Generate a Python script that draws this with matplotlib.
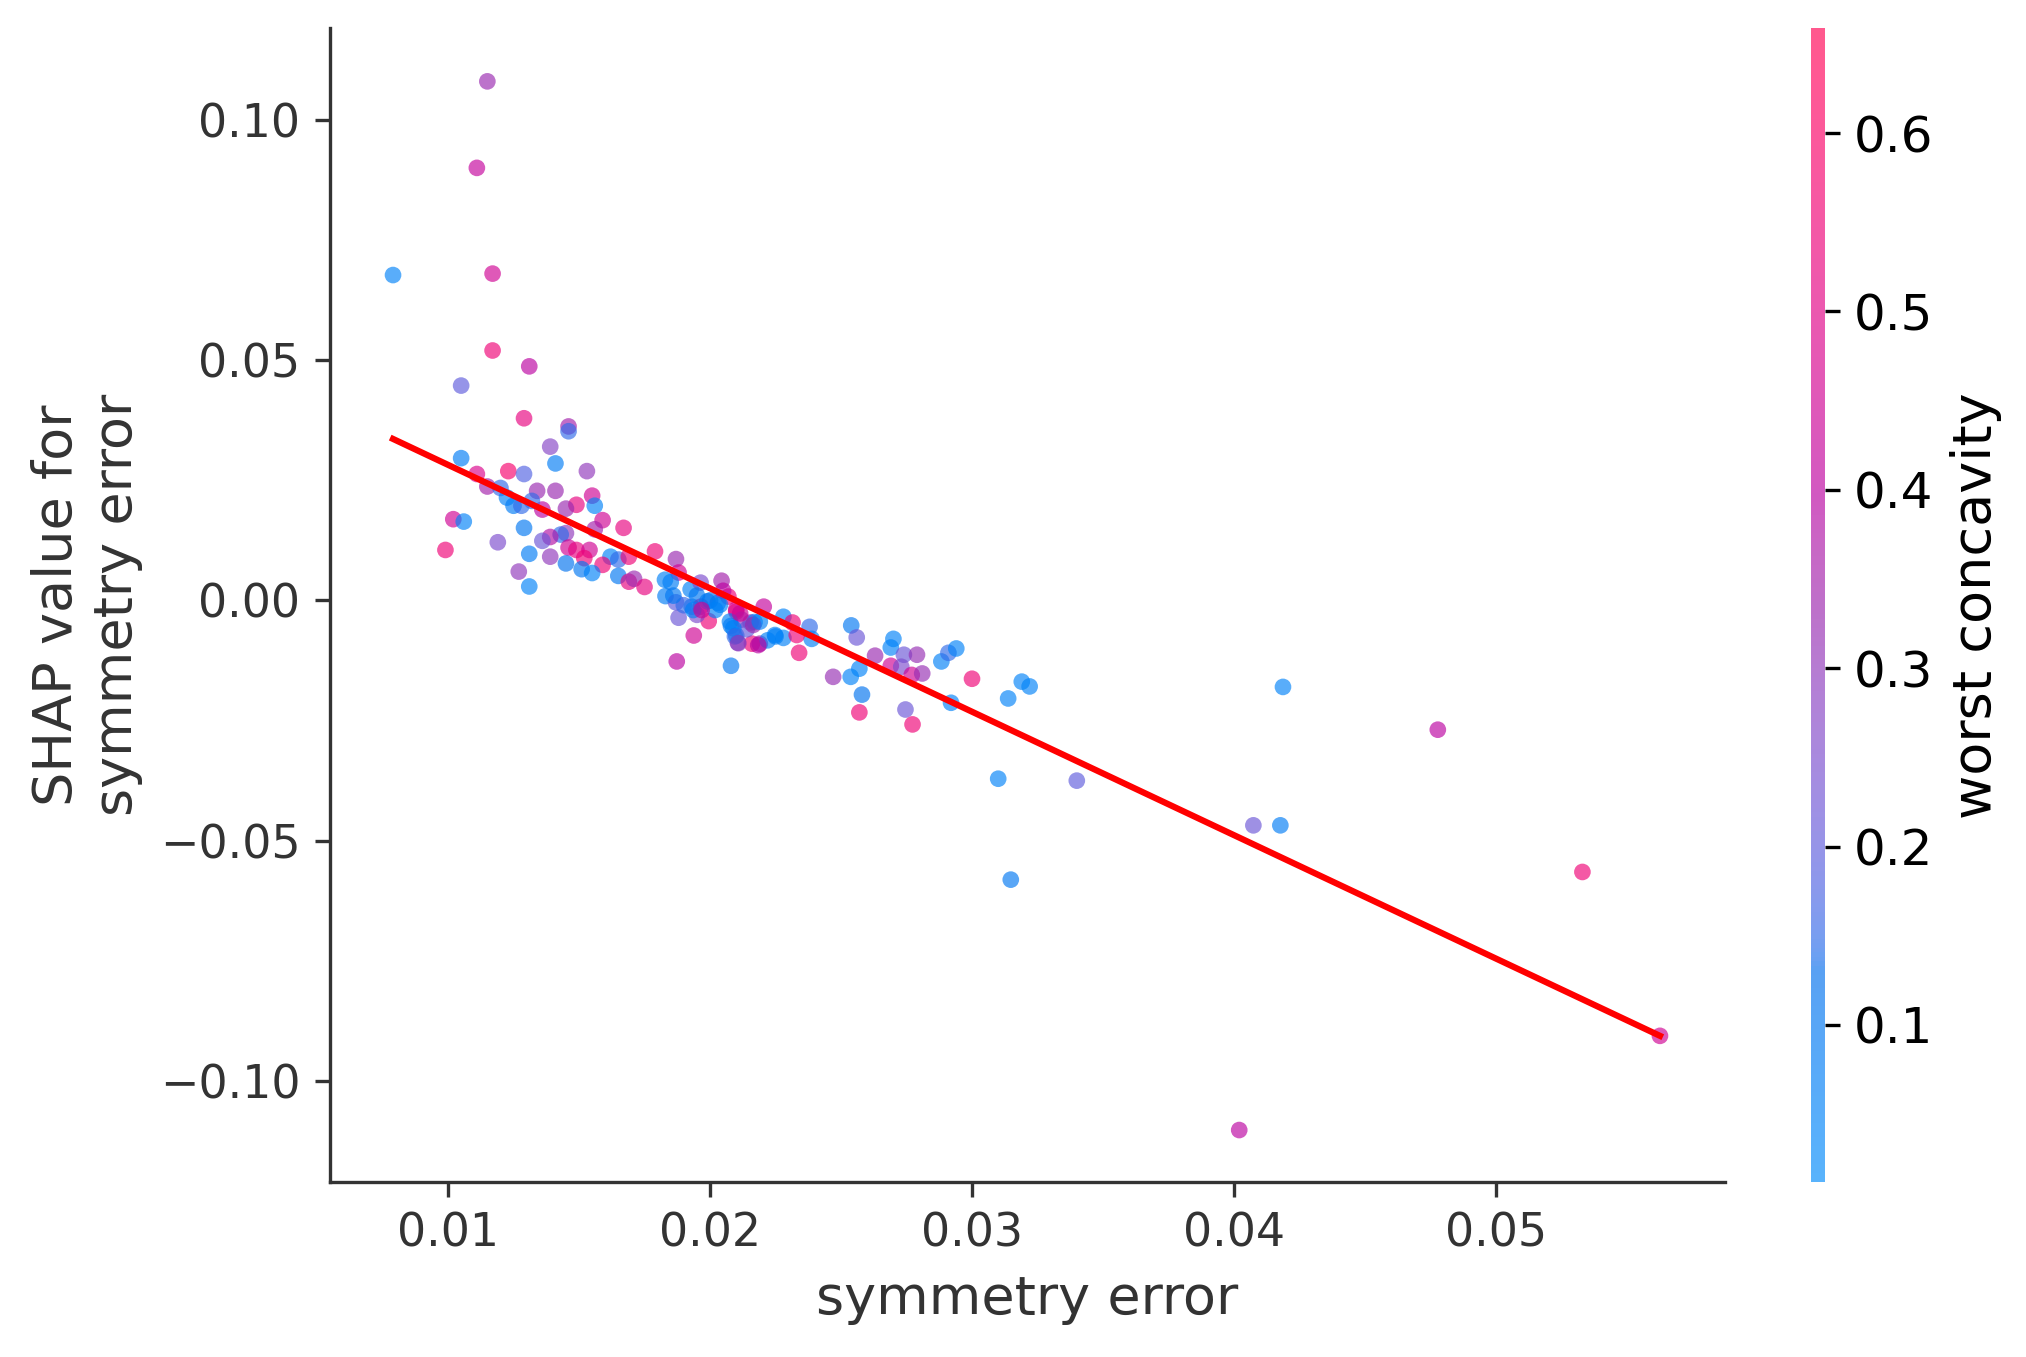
import numpy as np
import matplotlib
matplotlib.use("Agg")
import matplotlib.pyplot as plt
from matplotlib.colors import LinearSegmentedColormap

# symmetry error / SHAP value / worst concavity
sym_err = [
    0.0079, 0.0115, 0.0111, 0.0117, 0.0117, 0.0105, 0.0131, 0.0105, 0.0129, 0.0146,
    0.0146, 0.0139, 0.0141, 0.0153, 0.0111, 0.0123, 0.0129, 0.0115, 0.0120, 0.01225,
    0.0125, 0.0128, 0.0134, 0.0141, 0.0155, 0.0156, 0.0149, 0.0145, 0.0136, 0.0132,
    0.0159, 0.0102, 0.0106, 0.0129, 0.0167, 0.0156, 0.0145, 0.0143, 0.0139, 0.0136,
    0.0119, 0.0146, 0.0149, 0.0099, 0.0131, 0.0179, 0.0154, 0.0152, 0.0162, 0.0165,
    0.0169, 0.0139, 0.0187, 0.0145, 0.0159, 0.0151, 0.0155, 0.0165, 0.0188, 0.0169,
    0.0171, 0.0175, 0.0127, 0.0131, 0.0185, 0.0183, 0.0187, 0.0188, 0.01938, 0.01926,
    0.01964, 0.02044, 0.0207, 0.0210, 0.0203, 0.0193, 0.01995, 0.02205, 0.0228, 0.02315,
    0.0238, 0.02388, 0.0234, 0.0208, 0.0216, 0.0219, 0.0222, 0.0225, 0.0228, 0.02106,
    0.0210, 0.0208, 0.01965, 0.0199, 0.0210, 0.02155, 0.0217, 0.0212, 0.0214, 0.0200,
    0.0195, 0.0190, 0.0186, 0.0202, 0.0205, 0.0195, 0.02539, 0.0256, 0.0270, 0.0269,
    0.0263, 0.0274, 0.0279, 0.0269, 0.0273, 0.0277, 0.0281, 0.0247, 0.02537, 0.0257,
    0.0258, 0.0257, 0.02746, 0.02773, 0.02883, 0.0291, 0.0294, 0.0292, 0.0300, 0.03138,
    0.0319, 0.0322, 0.0310, 0.0340, 0.03148, 0.04187, 0.04778, 0.04074, 0.04177, 0.0402,
    0.0533, 0.05626, 0.01828, 0.01873, 0.01936, 0.01968, 0.02038, 0.02076, 0.02089, 0.02095,
    0.02108, 0.02115, 0.02165, 0.02184, 0.0219, 0.02331, 0.02248,
]
shap_val = [
    0.0677, 0.1080, 0.0900, 0.0680, 0.0520, 0.0447, 0.0487, 0.0296, 0.0379, 0.0362,
    0.0352, 0.0320, 0.0285, 0.0269, 0.0263, 0.0269, 0.0263, 0.0237, 0.0234, 0.0214,
    0.0197, 0.0197, 0.0228, 0.0228, 0.0218, 0.0197, 0.0199, 0.0191, 0.0189, 0.0207,
    0.0167, 0.0169, 0.0164, 0.0151, 0.0151, 0.0148, 0.0140, 0.0137, 0.0132, 0.0124,
    0.0121, 0.0110, 0.0105, 0.0105, 0.0097, 0.0102, 0.0105, 0.0088, 0.0091, 0.0085,
    0.0091, 0.0091, 0.0086, 0.0077, 0.0074, 0.0065, 0.0057, 0.0051, 0.0058, 0.0039,
    0.0045, 0.0028, 0.0060, 0.0029, 0.0038, 0.0009, -0.0004, -0.0036, -0.0073, 0.0023,
    0.0037, 0.0041, 0.0008, -0.0019, -0.0005, -0.0013, -0.0043, -0.0013, -0.0034, -0.0046,
    -0.0055, -0.0080, -0.0109, -0.0136, -0.0090, -0.0090, -0.0083, -0.0075, -0.0078, -0.0088,
    -0.0073, -0.0053, -0.0013, -0.0002, -0.0023, -0.0046, -0.0045, -0.0040, -0.0060, 0.0000,
    -0.0030, -0.0010, 0.0010, -0.0020, 0.0020, 0.0010, -0.0052, -0.0077, -0.0080, -0.0098,
    -0.0115, -0.0113, -0.0113, -0.0136, -0.0138, -0.0155, -0.0152, -0.0159, -0.0159, -0.0142,
    -0.0196, -0.0233, -0.0227, -0.0258, -0.0127, -0.0109, -0.0100, -0.0213, -0.0163, -0.0204,
    -0.0169, -0.0179, -0.0371, -0.0375, -0.0581, -0.0180, -0.0269, -0.0468, -0.0468, -0.1102,
    -0.0565, -0.0906, 0.0043, -0.0127, -0.0020, -0.0020, -0.0009, -0.0044, -0.0058, -0.0075,
    -0.0089, -0.0027, -0.0051, -0.0093, -0.0044, -0.0072, -0.0072,
]
worst_conc = [
    0.05, 0.33, 0.42, 0.45, 0.55, 0.20, 0.40, 0.08, 0.52, 0.35,
    0.15, 0.27, 0.08, 0.30, 0.48, 0.58, 0.18, 0.35, 0.15, 0.06,
    0.08, 0.15, 0.33, 0.33, 0.45, 0.05, 0.52, 0.33, 0.40, 0.15,
    0.45, 0.45, 0.05, 0.10, 0.52, 0.35, 0.30, 0.15, 0.38, 0.22,
    0.25, 0.45, 0.52, 0.55, 0.08, 0.55, 0.45, 0.55, 0.05, 0.15,
    0.55, 0.30, 0.33, 0.12, 0.55, 0.10, 0.05, 0.10, 0.45, 0.52,
    0.33, 0.52, 0.30, 0.05, 0.08, 0.08, 0.20, 0.22, 0.45, 0.06,
    0.25, 0.35, 0.55, 0.45, 0.06, 0.10, 0.55, 0.42, 0.05, 0.55,
    0.15, 0.06, 0.55, 0.10, 0.55, 0.35, 0.06, 0.06, 0.06, 0.25,
    0.10, 0.10, 0.45, 0.06, 0.52, 0.35, 0.06, 0.30, 0.20, 0.12,
    0.25, 0.15, 0.10, 0.06, 0.40, 0.10, 0.10, 0.22, 0.05, 0.05,
    0.33, 0.22, 0.32, 0.45, 0.25, 0.45, 0.32, 0.32, 0.05, 0.05,
    0.12, 0.55, 0.22, 0.55, 0.06, 0.15, 0.05, 0.05, 0.55, 0.05,
    0.05, 0.05, 0.05, 0.20, 0.10, 0.05, 0.40, 0.22, 0.08, 0.40,
    0.55, 0.45, 0.06, 0.40, 0.06, 0.45, 0.06, 0.06, 0.06, 0.15,
    0.30, 0.45, 0.33, 0.40, 0.06, 0.55, 0.06,
]

# fitted trend line end points
fit_x = [0.0079, 0.05626]
fit_y = [0.0336, -0.0906]

x_ticks = [0.01, 0.02, 0.03, 0.04, 0.05]
y_ticks = [-0.10, -0.05, 0.00, 0.05, 0.10]
cb_ticks = [0.1, 0.2, 0.3, 0.4, 0.5, 0.6]


# shap-style red/blue colormap, built in LCh space
def lch2rgb(l, c, h):
    a = c * np.cos(h)
    b = c * np.sin(h)
    fy = (l + 16) / 116
    fx = fy + a / 500
    fz = fy - b / 200

    def finv(t):
        return np.where(t > 6 / 29, t ** 3, 3 * (6 / 29) ** 2 * (t - 4 / 29))

    xyz = np.array([0.95047 * finv(fx), finv(fy), 1.08883 * finv(fz)])
    m = np.array([[3.2406, -1.5372, -0.4986],
                  [-0.9689, 1.8758, 0.0415],
                  [0.0557, -0.2040, 1.0570]])
    rgb = m @ xyz
    rgb = np.where(rgb > 0.0031308, 1.055 * np.abs(rgb) ** (1 / 2.4) - 0.055, 12.92 * rgb)
    return np.clip(rgb, 0, 1)


blue_lch = [54.0, 70.0, 4.6588]
red_lch = [54.0, 90.0, 0.35470565 + 2 * np.pi]
l_mid = 40.0
nsteps = 100
l_vals = list(np.linspace(blue_lch[0], l_mid, nsteps // 2)) + list(np.linspace(l_mid, red_lch[0], nsteps // 2))
c_vals = np.linspace(blue_lch[1], red_lch[1], nsteps)
h_vals = np.linspace(blue_lch[2], red_lch[2], nsteps)
cols = [lch2rgb(l, c, h) for l, c, h in zip(l_vals, c_vals, h_vals)]
red_blue = LinearSegmentedColormap.from_list('red_blue', cols)

fig = plt.figure(figsize=(2026 / 300, 1357 / 300), dpi=300)
ax = fig.add_axes([0.1627, 0.129, 0.6887, 0.850])
cax = fig.add_axes([0.8939, 0.129, 0.0069, 0.850])

sc = ax.scatter(sym_err, shap_val, c=worst_conc, cmap=red_blue, vmin=0.012, vmax=0.6586,
                s=16, alpha=0.65, linewidth=0)
ax.plot(fit_x, fit_y, color='red', linewidth=1.5)

ax.set_xlim(0.00548, 0.05874)
ax.set_ylim(-0.1210, 0.1190)
ax.set_xticks(x_ticks)
ax.set_yticks(y_ticks)
ax.set_xlabel('symmetry error', fontsize=13, color='#333333')
ax.set_ylabel('SHAP value for\nsymmetry error', fontsize=13, color='#333333')
ax.spines['top'].set_visible(False)
ax.spines['right'].set_visible(False)
ax.spines['left'].set_color('#333333')
ax.spines['bottom'].set_color('#333333')
ax.tick_params(labelsize=11, color='#333333', labelcolor='#333333')

cb = fig.colorbar(sc, cax=cax, ticks=cb_ticks)
cb.outline.set_visible(False)
cb.ax.tick_params(labelsize=12)
cb.set_label('worst concavity', size=13)

fig.savefig('out.png', dpi=300)
